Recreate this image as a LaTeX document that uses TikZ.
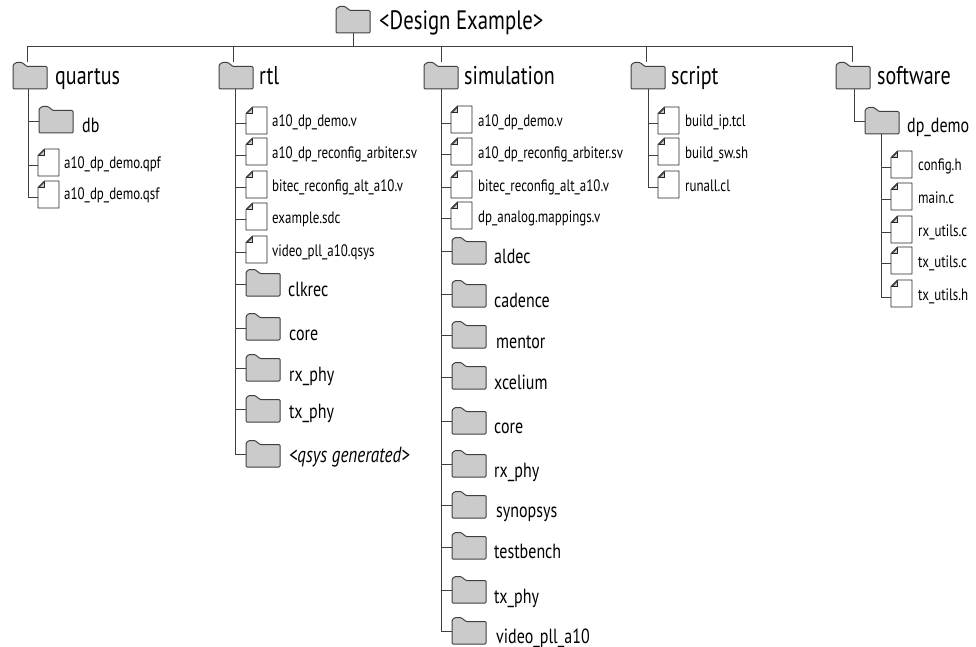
\documentclass[tikz,border=0pt]{standalone}
\usepackage{fontspec}
\setmainfont[FakeStretch=0.78]{PT Sans}
\definecolor{fgray}{HTML}{CBCBCB}
\definecolor{lineg}{HTML}{404040}
\tikzset{
  connector/.style={draw=lineg,line width=0.95pt},
  folderbox/.style={inner sep=0pt,minimum width=34pt,minimum height=27pt,anchor=north west},
  filebox/.style={inner sep=0pt,minimum width=21pt,minimum height=27pt,anchor=north west},
  foldershape/.style={draw=lineg,fill=fgray,line width=1pt,rounded corners=1pt},
  fileshape/.style={draw=black!85,fill=white,line width=0.95pt,line join=round},
  foldshape/.style={draw=black!85,fill=fgray,line width=.7pt},
  rootlabel/.style={anchor=base west,inner sep=0pt,font=\fontsize{26.6}{30}\selectfont},
  toplabel/.style={anchor=base west,inner sep=0pt,font=\fontsize{25.7}{28}\selectfont},
  sublabel/.style={anchor=base west,inner sep=0pt,font=\fontsize{20.5}{23}\selectfont},
  filelabel/.style={anchor=base west,inner sep=0pt,font=\fontsize{16.6}{19}\selectfont},
}
% name, x, top
\newcommand{\folderat}[3]{%
  \begin{scope}[shift={(#2,#3)}]
    \node[folderbox] (#1) at (0,0) {};
    \path[foldershape] (0,27) -- (0,3) -- (3,0.5) -- (9,0.5) -- (14,4.5) -- (34,4.5) -- (34,27) -- cycle;
  \end{scope}}
% name, x, top, branch y, parent stem, label, label x, baseline
\newcommand{\subfolder}[8]{%
  \draw[connector] (#5) |- (#1x);
  \folderat{#1}{#2}{#3}%
  \node[sublabel] (#1-label) at (#7,#8) {#6};}
\newcommand{\filenode}[7]{%
  \draw[connector] (#4) |- (#1x);
  \begin{scope}[shift={(#2,#3)}]
    \node[filebox] (#1) at (0,0) {};
    \path[fileshape] (0,6.5) -- (6.5,0) -- (21,0) -- (21,27) -- (0,27) -- cycle;
    \path[foldshape] (1,6.5) -- (6.5,1) -- (6.5,6.5) -- cycle;
  \end{scope}
  \node[filelabel] (#1-label) at (#6,#7) {#5};}
\begin{document}
\begin{tikzpicture}[x=1pt,y=-1pt]
\useasboundingbox (0,0) rectangle (976,647);
% root and bus
\folderat{root}{336}{6}
\node[rootlabel] (root-label) at (379,30) {<Design Example>};
\coordinate (bus) at (353,46);
\draw[connector] (root.south -| bus) -- (bus);
\draw[connector] (27,46) -- (852,46);
% top level
\folderat{quartus}{13}{62}
\folderat{rtl}{219}{62}
\folderat{simulation}{424}{62}
\folderat{script}{631}{62}
\folderat{software}{836}{62}
\draw[connector] (bus) -| (27,62);
\draw[connector] (bus) -| (233,62);
\draw[connector] (bus) -| (441,62);
\draw[connector] (bus) -| (646,62);
\draw[connector] (bus) -| (852,62);
\node[toplabel] (quartus-label) at (55,84.5) {quartus};
\node[toplabel] (rtl-label) at (259,84.5) {rtl};
\node[toplabel] (simulation-label) at (464,84.5) {simulation};
\node[toplabel] (script-label) at (671,84.5) {script};
\node[toplabel] (software-label) at (877,84.5) {software};
% stems
\coordinate (qs) at (28,89);
\coordinate (rs) at (235,89);
\coordinate (ss) at (441,89);
\coordinate (cs) at (648,89);
\coordinate (ws) at (854,89);
\coordinate (ds) at (881,134);
% branch ends
\coordinate (dbx) at (39,121);
\coordinate (q1x) at (38,165);
\coordinate (q2x) at (38,197);
\subfolder{db}{39}{106}{121}{qs}{db}{82}{133}
\filenode{q1}{38}{149}{qs}{a10\_dp\_demo.qpf}{64}{168}
\filenode{q2}{38}{181}{qs}{a10\_dp\_demo.qsf}{64}{200}
% rtl
\coordinate (r1x) at (246,123);
\coordinate (r2x) at (246,155);
\coordinate (r3x) at (246,187);
\coordinate (r4x) at (246,219);
\coordinate (r5x) at (246,252);
\coordinate (r6x) at (246,284);
\coordinate (r7x) at (246,328);
\coordinate (r8x) at (246,368);
\coordinate (r9x) at (246,409);
\coordinate (r10x) at (246,454);
\filenode{r1}{246}{107}{rs}{a10\_dp\_demo.v}{272}{127}
\filenode{r2}{246}{138}{rs}{a10\_dp\_reconfig\_arbiter.sv}{272}{159}
\filenode{r3}{246}{171}{rs}{bitec\_reconfig\_alt\_a10.v}{272}{191}
\filenode{r4}{246}{203}{rs}{example.sdc}{272}{223}
\filenode{r5}{246}{236}{rs}{video\_pll\_a10.qsys}{272}{256}
\subfolder{r6}{246}{269}{284}{rs}{clkrec}{288}{296}
\subfolder{r7}{246}{313}{328}{rs}{core}{289}{340}
\subfolder{r8}{246}{354}{368}{rs}{rx\_phy}{289}{381}
\subfolder{r9}{246}{395}{409}{rs}{tx\_phy}{289}{418}
\subfolder{r10}{246}{440}{454}{rs}{\fontsize{22}{24}\selectfont\itshape <qsys generated>}{289}{462}
% simulation
\coordinate (s1x) at (451,123);
\coordinate (s2x) at (451,154);
\coordinate (s3x) at (451,187);
\coordinate (s4x) at (451,218);
\coordinate (s5x) at (452,251);
\coordinate (s6x) at (452,294);
\coordinate (s7x) at (452,335);
\coordinate (s8x) at (452,377);
\coordinate (s9x) at (452,421);
\coordinate (s10x) at (452,464);
\coordinate (s11x) at (452,505);
\coordinate (s12x) at (452,547);
\coordinate (s13x) at (452,590);
\coordinate (s14x) at (452,631);
\filenode{s1}{451}{106}{ss}{a10\_dp\_demo.v}{478}{127}
\filenode{s2}{451}{138}{ss}{a10\_dp\_reconfig\_arbiter.sv}{478}{159}
\filenode{s3}{451}{171}{ss}{bitec\_reconfig\_alt\_a10.v}{478}{191}
\filenode{s4}{451}{202}{ss}{dp\_analog.mappings.v}{478}{222}
\subfolder{s5}{452}{237}{251}{ss}{aldec}{494}{263}
\subfolder{s6}{452}{280}{294}{ss}{cadence}{494}{307}
\subfolder{s7}{452}{321}{335}{ss}{mentor}{496}{348}
\subfolder{s8}{452}{362}{377}{ss}{xcelium}{494}{389}
\subfolder{s9}{452}{407}{421}{ss}{core}{494}{433}
\subfolder{s10}{452}{450}{464}{ss}{rx\_phy}{494}{477}
\subfolder{s11}{452}{491}{505}{ss}{synopsys}{496}{517}
\subfolder{s12}{452}{532}{547}{ss}{testbench}{494}{558}
\subfolder{s13}{452}{576}{590}{ss}{tx\_phy}{494}{603}
\subfolder{s14}{452}{617}{631}{ss}{video\_pll\_a10}{496}{643}
% script
\coordinate (c1x) at (658,123);
\coordinate (c2x) at (658,155);
\coordinate (c3x) at (658,187);
\filenode{c1}{658}{107}{cs}{build\_ip.tcl}{685}{127}
\filenode{c2}{658}{138}{cs}{build\_sw.sh}{685}{159}
\filenode{c3}{658}{171}{cs}{runall.cl}{685}{191}
% software
\coordinate (dx) at (865,121);
\subfolder{d}{865}{107}{121}{ws}{dp\_demo}{907}{133}
\coordinate (d1x) at (891,167);
\coordinate (d2x) at (891,199);
\coordinate (d3x) at (891,232);
\coordinate (d4x) at (891,263);
\coordinate (d5x) at (891,297);
\filenode{d1}{891}{151}{ds}{config.h}{918}{171}
\filenode{d2}{891}{183}{ds}{main.c}{918}{203}
\filenode{d3}{891}{216}{ds}{rx\_utils.c}{918}{236}
\filenode{d4}{891}{247}{ds}{tx\_utils.c}{918}{267}
\filenode{d5}{891}{280}{ds}{tx\_utils.h}{918}{300}
\end{tikzpicture}
\end{document}
